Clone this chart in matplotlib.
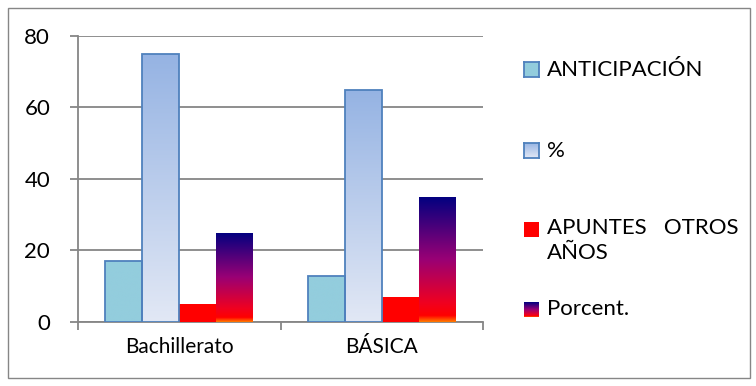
import numpy as np
import matplotlib.pyplot as plt
from matplotlib.colors import LinearSegmentedColormap
from matplotlib.patches import Rectangle

# Data
categories = ['Bachillerato', 'BÁSICA']
series_names = ['ANTICIPACIÓN', '%', 'APUNTES   OTROS\nAÑOS', 'Porcent.']
anticipacion = [17, 13]
porcentaje = [75, 65]
apuntes = [5, 7]
porcent = [25, 35]
y_ticks = [0, 20, 40, 60, 80]

plt.rcParams['font.family'] = ['Lato', 'DejaVu Sans']
fs = 16

# colour maps for the fills
cm_anti = LinearSegmentedColormap.from_list('anti', ['#93CDDD', '#93CDDD'])
cm_pct = LinearSegmentedColormap.from_list('pct', ['#E2E8F5', '#95B3E3'])
cm_apu = LinearSegmentedColormap.from_list('apu', ['#FF0000', '#FF0000'])
cm_por = LinearSegmentedColormap.from_list(
    'por', [(0.0, '#FF7A00'), (0.05, '#FF0000'), (0.15, '#F00020'),
            (0.5, '#990075'), (1.0, '#000080')])
cmaps = [cm_anti, cm_pct, cm_apu, cm_por]
edges = ['#4F81BD', '#4F81BD', 'none', 'none']

fig = plt.figure(figsize=(7.56, 3.86), dpi=100)
ax = fig.add_axes([0.1032, 0.1658, 0.5357, 0.741])

values = [anticipacion, porcentaje, apuntes, porcent]
x = np.arange(len(categories))
w = 0.1827
grad = np.linspace(0, 1, 256).reshape(-1, 1)

for i, vals in enumerate(values):
    bars = ax.bar(x + (i - 1.5) * w, vals, w, color='none',
                  edgecolor=edges[i], linewidth=1.3, zorder=4)
    for b in bars:
        x0 = b.get_x()
        im = ax.imshow(grad, extent=[x0, x0 + b.get_width(), 0, b.get_height()],
                       origin='lower', aspect='auto', cmap=cmaps[i], zorder=3)
        im.set_clip_path(b)

ax.set_xlim(-0.5, 1.5)
ax.set_ylim(0, 80)
ax.set_yticks(y_ticks)
ax.grid(axis='y', color='#868686', linewidth=1.3, zorder=0)
ax.set_axisbelow(True)

ax.set_xticks([-0.5, 0.5, 1.5])
ax.set_xticklabels(['', '', ''])
ax.set_xticks(x, minor=True)
ax.set_xticklabels(categories, minor=True)
ax.tick_params(axis='x', which='minor', length=0, pad=11, labelsize=15)
ax.tick_params(axis='x', which='major', length=6, width=1.3, color='#868686')
ax.tick_params(axis='y', length=6, width=1.3, color='#868686', pad=14, labelsize=fs)

for s in ['top', 'right']:
    ax.spines[s].set_visible(False)
for s in ['left', 'bottom']:
    ax.spines[s].set_color('#868686')
    ax.spines[s].set_linewidth(1.3)

# legend
leg_y = [0.8, 0.59, 0.385, 0.18]
for i, name in enumerate(series_names):
    sq = fig.add_axes([524 / 756, leg_y[i], 15 / 756, 15 / 386])
    sq.imshow(grad, origin='lower', aspect='auto', cmap=cmaps[i], extent=[0, 1, 0, 1])
    sq.set_xticks([])
    sq.set_yticks([])
    for s in sq.spines.values():
        if edges[i] == 'none':
            s.set_visible(False)
        else:
            s.set_color(edges[i])
            s.set_linewidth(1.3)
    if '\n' in name:
        fig.text(547 / 756, leg_y[i] + 19 / 386, name, fontsize=fs, va='top',
                 ha='left', linespacing=1.3)
    else:
        fig.text(547 / 756, leg_y[i] + 7.5 / 386, name, fontsize=fs,
                 va='center', ha='left')

# outer border
fig.add_artist(Rectangle((8 / 756, 8 / 386), 742 / 756, 370 / 386,
                         transform=fig.transFigure, fill=False,
                         edgecolor='#868686', linewidth=1))

fig.savefig('out.png', dpi=100)
